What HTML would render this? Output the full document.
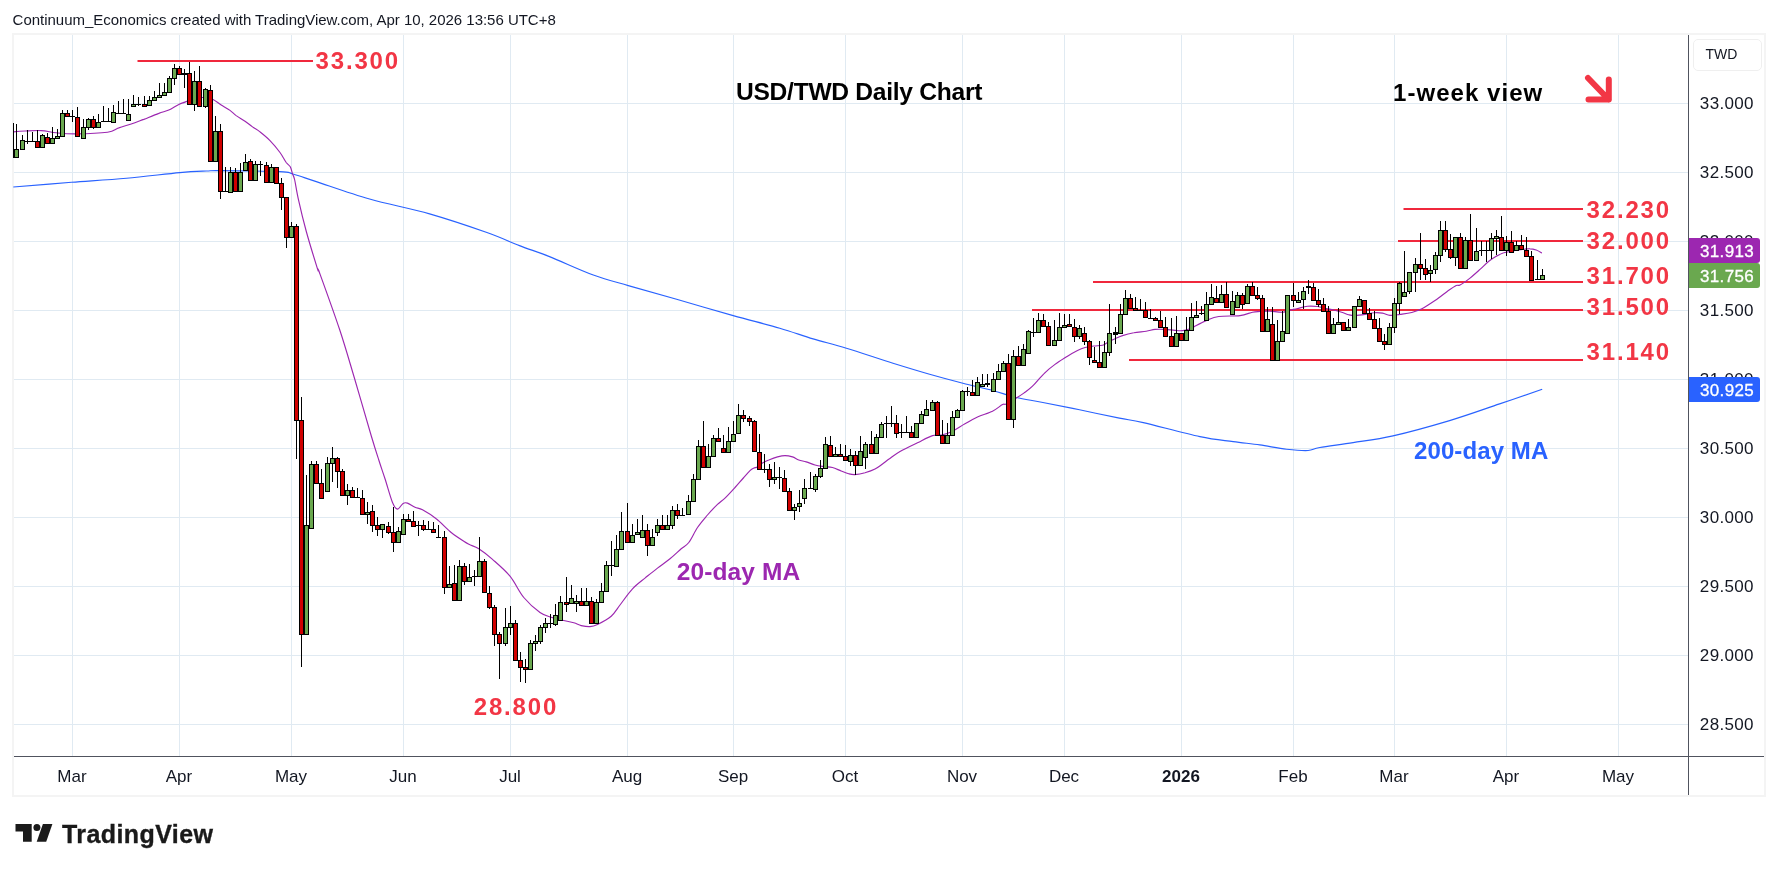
<!DOCTYPE html>
<html><head><meta charset="utf-8"><title>USD/TWD Daily Chart</title>
<style>
html,body{margin:0;padding:0;background:#fff;}
body{width:1778px;height:871px;position:relative;overflow:hidden;font-family:"Liberation Sans",sans-serif;color:#131722;}
.wrap{position:absolute;left:0;top:0;width:1778px;height:871px;will-change:transform;}
.chart{position:absolute;left:0;top:0;}
.frame{position:absolute;left:12px;top:33px;width:1750px;height:760px;border:2px solid #f4f4f4;box-sizing:content-box;}
.hdr{position:absolute;left:12.6px;letter-spacing:-0.02px;top:10px;font-size:15px;line-height:20px;white-space:nowrap;color:#131722;}
.pl{position:absolute;left:1688.9px;width:76px;text-align:center;font-size:17px;line-height:20px;height:20px;color:#131722;letter-spacing:0.35px;}
.tl{position:absolute;top:767.2px;width:80px;text-align:center;font-size:17px;line-height:20px;color:#131722;}
.tl.b{font-weight:bold;}
.badge{-webkit-text-stroke:0.3px #fff;position:absolute;left:1689px;width:71px;height:24.5px;border-radius:0 3px 3px 0;color:#fff;font-size:17px;line-height:27px;text-align:center;text-indent:5px;letter-spacing:0.3px;}
.twd{position:absolute;left:1693px;top:39px;width:67px;height:30px;border:1px solid #efefef;border-radius:5px;font-size:14px;line-height:29px;text-align:left;text-indent:11.5px;color:#131722;}
.t{position:absolute;white-space:nowrap;font-weight:bold;font-size:24px;line-height:28px;}
.red{color:#f23645;letter-spacing:1.85px;}
.logo{-webkit-text-stroke:0.35px #1a1a1a;position:absolute;left:62px;top:819px;font-weight:bold;font-size:25px;line-height:30px;letter-spacing:0.42px;color:#1a1a1a;white-space:nowrap;}
</style></head><body><div class="wrap">
<div class="frame"></div>
<div class="hdr">Continuum_Economics created with TradingView.com, Apr 10, 2026 13:56 UTC+8</div>
<svg class="chart" width="1778" height="871" viewBox="0 0 1778 871">
<defs><clipPath id="cp"><rect x="13" y="35" width="1675" height="721"/></clipPath></defs>
<path d="M14 103h1674v1h-1674zM14 172h1674v1h-1674zM14 241h1674v1h-1674zM14 310h1674v1h-1674zM14 379h1674v1h-1674zM14 448h1674v1h-1674zM14 517h1674v1h-1674zM14 586h1674v1h-1674zM14 655h1674v1h-1674zM14 724h1674v1h-1674zM72 35h1v721h-1zM179 35h1v721h-1zM291 35h1v721h-1zM403 35h1v721h-1zM510 35h1v721h-1zM627 35h1v721h-1zM733 35h1v721h-1zM845 35h1v721h-1zM962 35h1v721h-1zM1064 35h1v721h-1zM1181 35h1v721h-1zM1293 35h1v721h-1zM1394 35h1v721h-1zM1506 35h1v721h-1zM1618 35h1v721h-1z" fill="#e0eaf2" shape-rendering="crispEdges"/>
<g clip-path="url(#cp)">
<rect x="137.5" y="60" width="175.5" height="2" fill="#f0283c"/><rect x="1403.5" y="208" width="179.5" height="2" fill="#f0283c"/><rect x="1398" y="240" width="185" height="2" fill="#f0283c"/><rect x="1093" y="281" width="490" height="2" fill="#f0283c"/><rect x="1032" y="309" width="551" height="2" fill="#f0283c"/><rect x="1129" y="359" width="454" height="2" fill="#f0283c"/>
<path d="M13.3 187.0C23.0 186.2 52.7 183.8 71.6 182.3C90.5 180.9 108.5 179.9 126.5 178.3C144.5 176.7 166.5 173.8 179.8 172.6C193.1 171.4 199.8 171.3 206.5 171.0C213.2 170.7 207.6 170.5 219.8 170.6C232.0 170.7 267.5 171.0 279.7 171.6C291.9 172.2 286.9 172.3 293.0 174.0C299.1 175.7 303.5 177.4 316.3 181.6C329.1 185.8 350.7 193.6 369.6 199.0C388.5 204.4 410.2 208.3 429.6 213.9C449.0 219.5 471.2 227.0 486.2 232.3C501.2 237.6 508.9 241.5 519.5 245.6C530.0 249.7 537.2 251.7 549.5 256.6C561.8 261.5 580.2 270.2 593.3 275.0C606.4 279.8 614.4 281.6 628.3 285.6C642.2 289.7 659.1 294.3 676.6 299.3C694.1 304.3 716.0 310.8 733.2 315.6C750.4 320.4 766.5 324.3 779.8 328.2C793.1 332.1 802.0 335.6 813.1 338.9C824.2 342.2 833.1 344.1 846.4 348.2C859.7 352.2 879.1 358.9 893.0 363.2C906.9 367.5 918.0 370.9 929.6 374.2C941.2 377.5 952.4 380.5 962.9 383.2C973.4 385.9 984.0 388.1 992.9 390.5C1001.8 392.9 1007.9 395.5 1016.2 397.5C1024.5 399.5 1032.4 400.4 1042.9 402.5C1053.5 404.6 1066.8 407.2 1079.5 409.8C1092.2 412.4 1108.8 416.0 1119.4 418.1C1130.0 420.2 1129.9 419.5 1143.3 422.6C1156.7 425.7 1184.9 433.4 1199.9 436.6C1214.9 439.8 1223.2 440.2 1233.2 441.6C1243.2 443.0 1250.9 443.6 1259.8 444.9C1268.7 446.2 1278.5 448.3 1286.5 449.2C1294.5 450.1 1302.5 450.8 1308.1 450.5C1313.6 450.2 1312.3 448.8 1319.8 447.5C1327.3 446.2 1340.9 444.5 1353.1 442.6C1365.3 440.7 1376.9 439.6 1393.0 435.9C1409.1 432.2 1431.8 425.9 1449.6 420.6C1467.4 415.3 1484.2 409.1 1499.6 403.9C1515.0 398.7 1535.1 391.7 1542.2 389.3" fill="none" stroke="#2962ff" stroke-width="1.15" stroke-linejoin="round"/>
<path d="M13.5 131.9C15.4 131.7 20.4 131.2 25.0 131.0C29.6 130.8 36.0 130.3 41.2 130.6C46.5 130.9 50.6 132.2 56.2 132.8C61.9 133.3 66.5 133.8 75.0 133.8C83.5 133.7 100.2 133.2 107.5 132.2C114.8 131.3 114.8 129.2 118.8 127.9C122.7 126.5 127.1 125.4 131.2 124.0C135.4 122.6 139.2 121.1 143.8 119.4C148.3 117.6 154.6 114.9 158.8 113.4C162.9 111.8 165.4 111.5 168.8 110.0C172.1 108.5 176.0 105.7 178.8 104.4C181.5 103.1 182.7 103.0 185.0 102.1C187.3 101.3 190.0 100.1 192.5 99.4C195.0 98.7 198.4 98.2 200.0 97.9C201.6 97.6 200.7 97.5 201.9 97.5C203.1 97.5 205.1 97.5 207.0 97.8C208.9 98.1 210.7 98.2 213.1 99.4C215.5 100.6 218.4 103.2 221.2 105.0C224.1 106.8 227.5 108.6 230.0 110.4C232.5 112.2 233.8 113.8 236.2 115.6C238.8 117.4 242.3 119.4 245.0 121.2C247.7 123.1 250.0 125.1 252.5 126.9C255.0 128.7 257.1 129.6 260.0 131.9C262.9 134.2 266.7 137.2 270.0 140.6C273.3 144.0 277.3 148.8 280.0 152.5C282.7 156.2 284.5 160.1 286.2 162.5C288.0 164.9 289.4 165.0 290.4 166.9C291.4 168.8 291.8 171.6 292.5 173.8C293.2 175.9 293.7 175.4 294.7 180.0C295.7 184.6 296.8 192.7 298.8 201.2C300.7 209.8 303.2 220.2 306.3 231.5C309.4 242.8 315.3 261.8 317.5 268.8C319.7 275.7 316.0 263.0 319.7 273.2C323.4 283.4 333.9 312.3 339.7 329.8C345.5 347.3 349.1 360.3 354.4 378.0C359.7 395.7 367.2 422.3 371.3 436.0C375.4 449.7 376.5 452.9 378.8 460.0C381.0 467.1 382.7 471.7 385.0 478.8C387.3 485.8 390.4 497.4 392.5 502.5C394.6 507.6 395.7 509.0 397.5 509.1C399.3 509.2 401.4 504.4 403.1 503.4C404.8 502.4 405.5 502.5 407.5 503.1C409.5 503.7 412.5 506.1 415.0 507.2C417.5 508.4 419.0 507.8 422.5 509.8C426.0 511.7 431.5 515.0 436.2 518.8C441.0 522.5 446.7 528.8 451.2 532.5C455.8 536.2 460.6 539.2 463.8 541.2C466.9 543.3 467.5 543.5 470.0 544.8C472.5 546.0 475.0 546.3 478.8 548.8C482.5 551.2 487.3 554.8 492.5 559.4C497.7 564.0 504.8 569.9 510.0 576.2C515.2 582.6 518.8 591.5 523.8 597.5C528.8 603.5 535.4 609.2 540.0 612.5C544.6 615.8 547.5 616.0 551.2 617.2C555.0 618.5 558.8 619.3 562.5 620.2C566.2 621.2 570.6 621.9 573.8 622.8C576.9 623.6 578.5 625.0 581.2 625.6C584.0 626.2 587.3 626.8 590.0 626.6C592.7 626.4 594.0 626.1 597.5 624.4C601.0 622.7 607.5 619.5 611.2 616.2C615.0 613.0 616.5 609.6 620.0 605.0C623.5 600.4 628.3 593.2 632.5 588.8C636.7 584.3 640.8 581.5 645.0 578.1C649.2 574.7 653.3 571.3 657.5 568.1C661.7 564.9 666.0 562.0 670.0 558.8C674.0 555.5 678.1 551.5 681.2 548.8C684.4 546.0 686.0 546.0 688.8 542.5C691.5 539.0 694.4 532.1 697.5 527.5C700.6 522.9 704.2 518.9 707.5 515.0C710.8 511.1 714.6 507.2 717.5 504.4C720.4 501.6 722.1 500.9 725.0 498.1C727.9 495.3 731.9 490.9 735.0 487.5C738.1 484.1 741.2 480.3 743.8 477.5C746.2 474.7 748.3 472.2 750.0 470.6C751.7 469.0 752.5 468.7 753.8 468.1C755.0 467.5 756.0 467.7 757.5 466.9C759.0 466.1 760.6 464.2 762.5 463.1C764.4 462.0 766.2 461.0 768.8 460.0C771.2 459.0 774.8 457.6 777.5 456.9C780.2 456.2 782.5 455.6 785.0 455.6C787.5 455.6 790.2 456.2 792.5 456.9C794.8 457.6 796.5 459.2 798.8 460.0C801.0 460.8 803.5 461.1 806.2 461.9C809.0 462.7 812.1 464.2 815.0 465.0C817.9 465.8 820.8 466.1 823.8 466.5C826.7 466.9 829.6 466.8 832.5 467.5C835.4 468.2 838.5 470.0 841.2 471.0C844.0 472.0 846.5 473.1 848.8 473.8C851.0 474.4 852.3 474.8 855.0 474.6C857.7 474.4 861.7 473.7 865.0 472.8C868.3 471.8 872.1 470.5 875.0 469.0C877.9 467.5 880.1 465.7 882.5 464.0C884.9 462.3 886.5 460.8 889.4 458.8C892.3 456.7 895.3 454.2 900.0 451.5C904.7 448.8 912.1 445.4 917.5 442.8C922.9 440.1 928.3 436.9 932.5 435.6C936.7 434.3 939.2 435.5 942.5 434.8C945.8 434.0 948.8 433.1 952.5 431.2C956.2 429.4 960.8 426.1 965.0 423.8C969.2 421.4 972.9 419.0 977.5 416.9C982.1 414.8 988.3 413.3 992.5 411.2C996.7 409.2 1000.2 405.8 1002.5 404.6C1004.8 403.4 1004.0 405.1 1006.2 404.0C1008.5 402.9 1013.3 399.9 1016.2 398.1C1019.2 396.3 1021.0 395.1 1023.8 393.1C1026.5 391.1 1029.2 389.5 1032.5 386.2C1035.8 383.0 1040.0 377.4 1043.8 373.8C1047.5 370.1 1051.0 367.3 1055.0 364.4C1059.0 361.5 1063.8 358.6 1067.5 356.2C1071.2 353.9 1074.6 352.1 1077.5 350.6C1080.4 349.1 1082.3 348.3 1085.0 347.5C1087.7 346.7 1090.8 346.4 1093.8 346.0C1096.7 345.6 1100.2 345.8 1102.5 345.2C1104.8 344.7 1105.4 343.6 1107.5 342.5C1109.6 341.4 1112.5 339.9 1115.0 338.8C1117.5 337.6 1119.4 336.6 1122.5 335.6C1125.6 334.6 1129.8 333.5 1133.8 332.8C1137.7 332.0 1142.7 331.8 1146.2 331.2C1149.8 330.7 1151.9 329.7 1155.0 329.4C1158.1 329.1 1161.7 329.2 1165.0 329.4C1168.3 329.6 1172.1 330.2 1175.0 330.4C1177.9 330.6 1180.0 330.9 1182.5 330.6C1185.0 330.3 1188.1 329.4 1190.0 328.8C1191.9 328.1 1191.0 328.3 1193.8 326.9C1196.5 325.5 1202.1 322.3 1206.2 320.6C1210.4 318.9 1213.1 317.3 1218.8 316.5C1224.4 315.7 1234.4 316.3 1240.0 315.6C1245.6 314.9 1249.2 312.9 1252.5 312.2C1255.8 311.6 1257.1 311.7 1260.0 311.5C1262.9 311.3 1266.2 311.1 1270.0 311.2C1273.8 311.4 1279.2 312.4 1282.5 312.2C1285.8 312.1 1287.5 310.9 1290.0 310.2C1292.5 309.6 1294.6 309.2 1297.5 308.5C1300.4 307.8 1304.2 306.6 1307.5 306.2C1310.8 305.9 1314.4 306.1 1317.5 306.5C1320.6 306.9 1323.5 307.9 1326.2 308.5C1329.0 309.1 1331.0 309.3 1333.8 310.0C1336.5 310.7 1340.0 311.7 1342.5 312.5C1345.0 313.3 1346.7 314.2 1348.8 314.8C1350.8 315.3 1352.3 315.7 1355.0 315.6C1357.7 315.5 1361.9 314.9 1365.0 314.4C1368.1 313.9 1370.8 313.0 1373.8 312.8C1376.7 312.5 1379.8 312.7 1382.5 313.1C1385.2 313.5 1387.1 315.2 1390.0 315.4C1392.9 315.6 1396.4 314.9 1400.0 314.4C1403.6 313.9 1408.1 313.4 1411.8 312.5C1415.4 311.6 1418.0 310.7 1421.9 308.8C1425.8 306.8 1430.7 303.5 1435.0 300.6C1439.3 297.7 1444.0 293.8 1447.5 291.2C1451.0 288.8 1454.2 286.6 1456.2 285.6C1458.3 284.6 1457.7 286.2 1460.0 285.0C1462.3 283.8 1466.7 280.7 1470.0 278.1C1473.3 275.5 1476.9 272.2 1480.0 269.4C1483.1 266.6 1486.2 263.3 1488.8 261.2C1491.2 259.2 1492.5 258.3 1495.0 256.9C1497.5 255.5 1500.8 253.7 1503.8 252.8C1506.7 251.8 1509.4 251.6 1512.5 251.0C1515.6 250.4 1519.6 249.8 1522.5 249.4C1525.4 249.0 1527.7 248.7 1530.0 248.8C1532.3 248.8 1534.3 249.3 1536.2 250.0C1538.2 250.7 1541.0 252.6 1541.9 253.1" fill="none" stroke="#9c27b0" stroke-width="1.15" stroke-linejoin="round"/>
<g shape-rendering="crispEdges">
<path d="M11 123h1v35h-1zM16 124h1v34h-1zM22 135h1v15h-1zM27 130h1v14h-1zM32 132h1v10h-1zM37 130h1v18h-1zM42 134h1v14h-1zM47 133h1v11h-1zM52 127h1v17h-1zM57 129h1v10h-1zM62 110h1v27h-1zM67 110h1v7h-1zM72 110h1v12h-1zM77 107h1v30h-1zM83 119h1v20h-1zM88 118h1v12h-1zM93 116h1v13h-1zM98 114h1v14h-1zM103 106h1v16h-1zM108 108h1v14h-1zM113 105h1v18h-1zM118 101h1v13h-1zM123 99h1v15h-1zM128 99h1v22h-1zM133 95h1v12h-1zM138 97h1v9h-1zM144 96h1v11h-1zM149 96h1v10h-1zM154 91h1v10h-1zM159 83h1v15h-1zM164 83h1v13h-1zM169 76h1v17h-1zM174 64h1v21h-1zM179 66h1v9h-1zM184 69h1v19h-1zM189 62h1v43h-1zM194 71h1v40h-1zM199 66h1v41h-1zM205 88h1v20h-1zM210 85h1v77h-1zM215 116h1v46h-1zM220 124h1v75h-1zM225 167h1v25h-1zM230 167h1v26h-1zM235 168h1v24h-1zM240 163h1v29h-1zM245 154h1v17h-1zM250 159h1v22h-1zM255 161h1v20h-1zM260 161h1v15h-1zM266 162h1v21h-1zM271 164h1v19h-1zM276 167h1v17h-1zM281 178h1v32h-1zM286 197h1v51h-1zM291 222h1v16h-1zM296 224h1v235h-1zM301 397h1v270h-1zM306 475h1v160h-1zM311 461h1v68h-1zM316 461h1v23h-1zM321 469h1v30h-1zM327 457h1v35h-1zM332 447h1v35h-1zM337 457h1v31h-1zM342 469h1v27h-1zM347 484h1v21h-1zM352 487h1v11h-1zM357 488h1v10h-1zM362 490h1v25h-1zM367 502h1v22h-1zM372 505h1v27h-1zM377 517h1v19h-1zM382 524h1v14h-1zM388 522h1v12h-1zM393 507h1v45h-1zM398 527h1v16h-1zM403 514h1v21h-1zM408 514h1v8h-1zM413 511h1v16h-1zM418 521h1v15h-1zM423 520h1v11h-1zM428 521h1v9h-1zM433 522h1v11h-1zM438 525h1v13h-1zM444 531h1v63h-1zM449 566h1v22h-1zM454 565h1v36h-1zM459 560h1v41h-1zM464 563h1v22h-1zM469 564h1v18h-1zM474 570h1v16h-1zM479 537h1v40h-1zM484 559h1v34h-1zM489 586h1v23h-1zM494 605h1v41h-1zM499 632h1v47h-1zM505 608h1v38h-1zM510 606h1v29h-1zM515 620h1v41h-1zM520 652h1v30h-1zM525 659h1v24h-1zM530 640h1v30h-1zM535 635h1v16h-1zM540 625h1v19h-1zM545 618h1v15h-1zM550 614h1v14h-1zM555 604h1v22h-1zM560 596h1v25h-1zM566 577h1v35h-1zM571 585h1v19h-1zM576 595h1v17h-1zM581 588h1v18h-1zM586 588h1v18h-1zM591 597h1v27h-1zM596 599h1v25h-1zM601 583h1v20h-1zM606 561h1v31h-1zM611 541h1v35h-1zM616 535h1v32h-1zM621 512h1v38h-1zM627 503h1v40h-1zM632 524h1v19h-1zM637 519h1v16h-1zM642 515h1v23h-1zM647 524h1v32h-1zM652 529h1v17h-1zM657 519h1v17h-1zM662 515h1v15h-1zM667 515h1v15h-1zM672 506h1v23h-1zM677 504h1v15h-1zM682 508h1v8h-1zM688 495h1v20h-1zM693 474h1v28h-1zM698 440h1v40h-1zM703 421h1v47h-1zM708 444h1v24h-1zM713 435h1v22h-1zM718 428h1v14h-1zM723 435h1v18h-1zM728 427h1v26h-1zM733 421h1v21h-1zM738 404h1v30h-1zM743 410h1v12h-1zM749 416h1v10h-1zM754 420h1v32h-1zM759 434h1v36h-1zM764 454h1v19h-1zM769 464h1v23h-1zM774 462h1v22h-1zM779 467h1v22h-1zM784 470h1v22h-1zM789 488h1v23h-1zM794 504h1v16h-1zM799 490h1v22h-1zM804 479h1v25h-1zM810 472h1v17h-1zM815 474h1v18h-1zM820 460h1v18h-1zM825 437h1v32h-1zM830 436h1v21h-1zM835 447h1v10h-1zM840 444h1v13h-1zM845 445h1v16h-1zM850 449h1v17h-1zM855 451h1v24h-1zM860 436h1v30h-1zM865 442h1v27h-1zM871 431h1v23h-1zM876 434h1v20h-1zM881 422h1v16h-1zM886 416h1v22h-1zM891 406h1v21h-1zM896 415h1v23h-1zM901 424h1v14h-1zM906 416h1v17h-1zM911 426h1v12h-1zM916 423h1v15h-1zM921 411h1v13h-1zM926 400h1v16h-1zM932 400h1v11h-1zM937 401h1v35h-1zM942 420h1v24h-1zM947 423h1v21h-1zM952 411h1v25h-1zM957 409h1v9h-1zM962 390h1v21h-1zM967 387h1v9h-1zM972 380h1v16h-1zM977 377h1v19h-1zM982 374h1v13h-1zM987 374h1v13h-1zM993 373h1v19h-1zM998 364h1v16h-1zM1003 361h1v11h-1zM1008 354h1v66h-1zM1013 350h1v78h-1zM1018 346h1v20h-1zM1023 344h1v22h-1zM1028 330h1v24h-1zM1033 318h1v19h-1zM1038 313h1v20h-1zM1043 314h1v13h-1zM1048 322h1v24h-1zM1054 320h1v26h-1zM1059 313h1v28h-1zM1064 314h1v14h-1zM1069 314h1v13h-1zM1074 319h1v23h-1zM1079 325h1v14h-1zM1084 327h1v18h-1zM1089 340h1v25h-1zM1094 347h1v16h-1zM1099 341h1v27h-1zM1104 341h1v27h-1zM1109 304h1v52h-1zM1115 327h1v17h-1zM1120 304h1v30h-1zM1125 290h1v25h-1zM1130 294h1v15h-1zM1135 297h1v14h-1zM1140 299h1v12h-1zM1145 302h1v16h-1zM1150 309h1v10h-1zM1155 317h1v4h-1zM1160 311h1v17h-1zM1165 317h1v20h-1zM1171 318h1v29h-1zM1176 316h1v31h-1zM1181 333h1v8h-1zM1186 317h1v24h-1zM1191 303h1v28h-1zM1196 301h1v17h-1zM1201 306h1v9h-1zM1206 292h1v29h-1zM1211 284h1v21h-1zM1216 286h1v17h-1zM1221 285h1v18h-1zM1226 282h1v26h-1zM1232 291h1v24h-1zM1237 292h1v16h-1zM1242 293h1v16h-1zM1247 284h1v20h-1zM1252 282h1v14h-1zM1257 287h1v13h-1zM1262 295h1v37h-1zM1267 307h1v25h-1zM1272 307h1v54h-1zM1277 320h1v41h-1zM1282 311h1v31h-1zM1287 295h1v39h-1zM1293 283h1v24h-1zM1298 292h1v11h-1zM1303 287h1v22h-1zM1308 280h1v14h-1zM1313 283h1v18h-1zM1318 289h1v18h-1zM1323 298h1v14h-1zM1328 306h1v28h-1zM1333 318h1v16h-1zM1338 308h1v17h-1zM1343 322h1v9h-1zM1348 319h1v12h-1zM1354 306h1v22h-1zM1359 296h1v11h-1zM1364 300h1v14h-1zM1369 308h1v12h-1zM1374 311h1v18h-1zM1379 318h1v24h-1zM1384 334h1v16h-1zM1389 323h1v22h-1zM1394 298h1v35h-1zM1399 282h1v32h-1zM1404 251h1v46h-1zM1409 272h1v22h-1zM1415 258h1v34h-1zM1420 233h1v47h-1zM1425 259h1v21h-1zM1430 265h1v17h-1zM1435 252h1v22h-1zM1440 221h1v41h-1zM1445 221h1v31h-1zM1450 234h1v25h-1zM1455 237h1v29h-1zM1460 233h1v36h-1zM1465 237h1v32h-1zM1470 214h1v47h-1zM1476 228h1v33h-1zM1481 241h1v15h-1zM1486 241h1v21h-1zM1491 233h1v26h-1zM1496 230h1v25h-1zM1501 216h1v35h-1zM1506 236h1v20h-1zM1511 231h1v22h-1zM1516 241h1v10h-1zM1521 235h1v15h-1zM1526 237h1v20h-1zM1531 251h1v30h-1zM1537 260h1v20h-1zM1542 269h1v11h-1z" fill="#000"/>
<path d="M9 123h5v35h-5zM14 149h5v9h-5zM20 140h5v10h-5zM25 141h5v1h-5zM30 141h5v1h-5zM35 141h5v7h-5zM40 135h5v13h-5zM45 137h5v7h-5zM50 138h5v6h-5zM55 136h5v3h-5zM60 113h5v24h-5zM65 113h5v4h-5zM70 116h5v1h-5zM75 117h5v20h-5zM81 127h5v12h-5zM86 119h5v9h-5zM91 119h5v9h-5zM96 122h5v6h-5zM101 121h5v1h-5zM106 121h5v1h-5zM111 112h5v11h-5zM116 113h5v1h-5zM121 113h5v1h-5zM126 114h5v7h-5zM131 104h5v3h-5zM136 104h5v1h-5zM142 104h5v3h-5zM147 100h5v6h-5zM152 97h5v4h-5zM157 95h5v3h-5zM162 92h5v4h-5zM167 78h5v15h-5zM172 68h5v11h-5zM177 68h5v7h-5zM182 73h5v2h-5zM187 73h5v32h-5zM192 81h5v24h-5zM197 81h5v26h-5zM203 89h5v18h-5zM208 90h5v72h-5zM213 131h5v31h-5zM218 131h5v61h-5zM223 191h5v1h-5zM228 172h5v21h-5zM233 172h5v20h-5zM238 172h5v20h-5zM243 162h5v9h-5zM248 161h5v20h-5zM253 164h5v17h-5zM258 164h5v1h-5zM264 165h5v18h-5zM269 167h5v16h-5zM274 167h5v17h-5zM279 183h5v15h-5zM284 197h5v41h-5zM289 226h5v12h-5zM294 226h5v195h-5zM299 420h5v215h-5zM304 525h5v110h-5zM309 464h5v65h-5zM314 464h5v20h-5zM319 483h5v16h-5zM325 463h5v29h-5zM330 458h5v6h-5zM335 458h5v14h-5zM340 471h5v25h-5zM345 490h5v6h-5zM350 490h5v8h-5zM355 497h5v1h-5zM360 498h5v17h-5zM365 512h5v3h-5zM370 511h5v15h-5zM375 525h5v5h-5zM380 524h5v6h-5zM386 526h5v7h-5zM391 532h5v11h-5zM396 531h5v12h-5zM401 519h5v16h-5zM406 519h5v3h-5zM411 521h5v6h-5zM416 525h5v1h-5zM421 525h5v5h-5zM426 529h5v1h-5zM431 529h5v4h-5zM436 537h5v1h-5zM442 537h5v51h-5zM447 584h5v4h-5zM452 583h5v18h-5zM457 566h5v35h-5zM462 566h5v16h-5zM467 577h5v5h-5zM472 576h5v1h-5zM477 561h5v16h-5zM482 561h5v32h-5zM487 593h5v15h-5zM492 607h5v28h-5zM497 634h5v10h-5zM503 627h5v17h-5zM508 623h5v5h-5zM513 623h5v38h-5zM518 660h5v8h-5zM523 667h5v3h-5zM528 643h5v27h-5zM533 641h5v3h-5zM538 627h5v15h-5zM543 623h5v5h-5zM548 623h5v1h-5zM553 615h5v10h-5zM558 602h5v19h-5zM564 602h5v3h-5zM569 598h5v6h-5zM574 601h5v3h-5zM579 601h5v5h-5zM584 601h5v5h-5zM589 601h5v23h-5zM594 602h5v22h-5zM599 591h5v12h-5zM604 565h5v27h-5zM609 565h5v1h-5zM614 549h5v18h-5zM619 531h5v19h-5zM625 531h5v12h-5zM630 535h5v8h-5zM635 532h5v3h-5zM640 530h5v8h-5zM645 530h5v16h-5zM650 537h5v9h-5zM655 525h5v8h-5zM660 525h5v5h-5zM665 525h5v5h-5zM670 510h5v16h-5zM675 510h5v6h-5zM680 515h5v1h-5zM686 501h5v14h-5zM691 479h5v23h-5zM696 446h5v34h-5zM701 446h5v22h-5zM706 456h5v12h-5zM711 438h5v19h-5zM716 438h5v4h-5zM721 448h5v5h-5zM726 441h5v12h-5zM731 434h5v8h-5zM736 415h5v19h-5zM741 415h5v4h-5zM747 418h5v4h-5zM752 421h5v31h-5zM757 452h5v18h-5zM762 469h5v1h-5zM767 469h5v11h-5zM772 477h5v3h-5zM777 477h5v1h-5zM782 478h5v14h-5zM787 491h5v20h-5zM792 507h5v4h-5zM797 503h5v4h-5zM802 488h5v11h-5zM808 488h5v1h-5zM813 476h5v14h-5zM818 468h5v9h-5zM823 444h5v25h-5zM828 445h5v12h-5zM833 454h5v3h-5zM838 454h5v3h-5zM843 456h5v5h-5zM848 455h5v7h-5zM853 455h5v11h-5zM858 451h5v15h-5zM863 444h5v14h-5zM869 444h5v10h-5zM874 437h5v17h-5zM879 424h5v14h-5zM884 423h5v1h-5zM889 423h5v1h-5zM894 423h5v11h-5zM899 432h5v1h-5zM904 432h5v1h-5zM909 432h5v6h-5zM914 423h5v15h-5zM919 414h5v10h-5zM924 409h5v7h-5zM930 402h5v9h-5zM935 402h5v34h-5zM940 435h5v9h-5zM945 435h5v9h-5zM950 417h5v19h-5zM955 410h5v8h-5zM960 391h5v20h-5zM965 391h5v1h-5zM970 392h5v4h-5zM975 382h5v14h-5zM980 384h5v3h-5zM985 383h5v2h-5zM991 379h5v13h-5zM996 371h5v9h-5zM1001 363h5v9h-5zM1006 363h5v57h-5zM1011 356h5v64h-5zM1016 356h5v10h-5zM1021 349h5v17h-5zM1026 331h5v23h-5zM1031 332h5v1h-5zM1036 320h5v13h-5zM1041 320h5v7h-5zM1046 326h5v20h-5zM1052 340h5v6h-5zM1057 327h5v14h-5zM1062 325h5v3h-5zM1067 324h5v3h-5zM1072 327h5v10h-5zM1077 328h5v9h-5zM1082 333h5v9h-5zM1087 341h5v17h-5zM1092 360h5v3h-5zM1097 362h5v6h-5zM1102 352h5v16h-5zM1107 333h5v20h-5zM1113 332h5v3h-5zM1118 314h5v20h-5zM1123 298h5v17h-5zM1128 298h5v11h-5zM1133 308h5v3h-5zM1138 310h5v1h-5zM1143 310h5v8h-5zM1148 318h5v1h-5zM1153 318h5v3h-5zM1158 320h5v8h-5zM1163 327h5v10h-5zM1169 336h5v11h-5zM1174 333h5v14h-5zM1179 333h5v8h-5zM1184 330h5v11h-5zM1189 317h5v14h-5zM1194 315h5v3h-5zM1199 313h5v1h-5zM1204 304h5v17h-5zM1209 297h5v8h-5zM1214 298h5v5h-5zM1219 294h5v9h-5zM1224 294h5v14h-5zM1230 301h5v14h-5zM1235 295h5v13h-5zM1240 295h5v10h-5zM1245 286h5v18h-5zM1250 286h5v10h-5zM1255 295h5v4h-5zM1260 298h5v34h-5zM1265 319h5v13h-5zM1270 324h5v37h-5zM1275 341h5v20h-5zM1280 331h5v11h-5zM1285 295h5v39h-5zM1291 295h5v6h-5zM1296 300h5v3h-5zM1301 291h5v9h-5zM1306 286h5v2h-5zM1311 287h5v14h-5zM1316 300h5v5h-5zM1321 304h5v8h-5zM1326 311h5v23h-5zM1331 324h5v10h-5zM1336 322h5v3h-5zM1341 322h5v9h-5zM1346 327h5v4h-5zM1352 306h5v22h-5zM1357 299h5v8h-5zM1362 300h5v14h-5zM1367 313h5v7h-5zM1372 319h5v10h-5zM1377 328h5v14h-5zM1382 341h5v4h-5zM1387 327h5v18h-5zM1392 303h5v25h-5zM1397 283h5v21h-5zM1402 292h5v5h-5zM1407 272h5v20h-5zM1413 264h5v9h-5zM1418 264h5v5h-5zM1423 268h5v7h-5zM1428 270h5v4h-5zM1433 255h5v15h-5zM1438 230h5v26h-5zM1443 230h5v20h-5zM1448 249h5v9h-5zM1453 237h5v21h-5zM1458 237h5v32h-5zM1463 240h5v29h-5zM1468 240h5v21h-5zM1474 251h5v10h-5zM1479 250h5v1h-5zM1484 250h5v1h-5zM1489 238h5v13h-5zM1494 236h5v3h-5zM1499 237h5v14h-5zM1504 242h5v9h-5zM1509 242h5v11h-5zM1514 245h5v6h-5zM1519 245h5v5h-5zM1524 250h5v7h-5zM1529 256h5v25h-5zM1535 279h5v1h-5zM1540 275h5v5h-5z" fill="#000"/>
<path d="M10 124h3v33h-3zM15 150h3v7h-3zM21 141h3v8h-3zM41 136h3v11h-3zM51 139h3v4h-3zM56 137h3v1h-3zM61 114h3v22h-3zM82 128h3v10h-3zM87 120h3v7h-3zM97 123h3v4h-3zM112 113h3v9h-3zM127 115h3v5h-3zM132 105h3v1h-3zM148 101h3v4h-3zM153 98h3v2h-3zM158 96h3v1h-3zM163 93h3v2h-3zM168 79h3v13h-3zM173 69h3v9h-3zM193 82h3v22h-3zM204 90h3v16h-3zM214 132h3v29h-3zM229 173h3v19h-3zM239 173h3v18h-3zM244 163h3v7h-3zM254 165h3v15h-3zM270 168h3v14h-3zM290 227h3v10h-3zM305 526h3v108h-3zM310 465h3v63h-3zM326 464h3v27h-3zM331 459h3v4h-3zM346 491h3v4h-3zM366 513h3v1h-3zM381 525h3v4h-3zM397 532h3v10h-3zM402 520h3v14h-3zM448 585h3v2h-3zM458 567h3v33h-3zM468 578h3v3h-3zM478 562h3v14h-3zM504 628h3v15h-3zM509 624h3v3h-3zM529 644h3v25h-3zM534 642h3v1h-3zM539 628h3v13h-3zM544 624h3v3h-3zM554 616h3v8h-3zM559 603h3v17h-3zM570 599h3v4h-3zM575 602h3v1h-3zM585 602h3v3h-3zM595 603h3v20h-3zM600 592h3v10h-3zM605 566h3v25h-3zM615 550h3v16h-3zM620 532h3v17h-3zM631 536h3v6h-3zM636 533h3v1h-3zM641 531h3v6h-3zM651 538h3v7h-3zM656 526h3v6h-3zM666 526h3v3h-3zM671 511h3v14h-3zM687 502h3v12h-3zM692 480h3v21h-3zM697 447h3v32h-3zM707 457h3v10h-3zM712 439h3v17h-3zM727 442h3v10h-3zM732 435h3v6h-3zM737 416h3v17h-3zM773 478h3v1h-3zM793 508h3v2h-3zM798 504h3v2h-3zM803 489h3v9h-3zM814 477h3v12h-3zM819 469h3v7h-3zM824 445h3v23h-3zM834 455h3v1h-3zM849 456h3v5h-3zM859 452h3v13h-3zM864 445h3v12h-3zM875 438h3v15h-3zM880 425h3v12h-3zM915 424h3v13h-3zM920 415h3v8h-3zM925 410h3v5h-3zM931 403h3v7h-3zM946 436h3v7h-3zM951 418h3v17h-3zM956 411h3v6h-3zM961 392h3v18h-3zM976 383h3v12h-3zM981 385h3v1h-3zM992 380h3v11h-3zM997 372h3v7h-3zM1002 364h3v7h-3zM1012 357h3v62h-3zM1022 350h3v15h-3zM1027 332h3v21h-3zM1037 321h3v11h-3zM1053 341h3v4h-3zM1058 328h3v12h-3zM1063 326h3v1h-3zM1078 329h3v7h-3zM1103 353h3v14h-3zM1108 334h3v18h-3zM1119 315h3v18h-3zM1124 299h3v15h-3zM1175 334h3v12h-3zM1185 331h3v9h-3zM1190 318h3v12h-3zM1195 316h3v1h-3zM1205 305h3v15h-3zM1210 298h3v6h-3zM1220 295h3v7h-3zM1231 302h3v12h-3zM1236 296h3v11h-3zM1246 287h3v16h-3zM1266 320h3v11h-3zM1276 342h3v18h-3zM1281 332h3v9h-3zM1286 296h3v37h-3zM1297 301h3v1h-3zM1302 292h3v7h-3zM1332 325h3v8h-3zM1337 323h3v1h-3zM1347 328h3v2h-3zM1353 307h3v20h-3zM1358 300h3v6h-3zM1388 328h3v16h-3zM1393 304h3v23h-3zM1398 284h3v19h-3zM1403 293h3v3h-3zM1408 273h3v18h-3zM1414 265h3v7h-3zM1429 271h3v2h-3zM1434 256h3v13h-3zM1439 231h3v24h-3zM1454 238h3v19h-3zM1464 241h3v27h-3zM1475 252h3v8h-3zM1490 239h3v11h-3zM1495 237h3v1h-3zM1505 243h3v7h-3zM1515 246h3v4h-3zM1541 276h3v3h-3z" fill="#6aa84f"/>
<path d="M36 142h3v5h-3zM46 138h3v5h-3zM66 114h3v2h-3zM76 118h3v18h-3zM92 120h3v7h-3zM143 105h3v1h-3zM178 69h3v5h-3zM188 74h3v30h-3zM198 82h3v24h-3zM209 91h3v70h-3zM219 132h3v59h-3zM234 173h3v18h-3zM249 162h3v18h-3zM265 166h3v16h-3zM275 168h3v15h-3zM280 184h3v13h-3zM285 198h3v39h-3zM295 227h3v193h-3zM300 421h3v213h-3zM315 465h3v18h-3zM320 484h3v14h-3zM336 459h3v12h-3zM341 472h3v23h-3zM351 491h3v6h-3zM361 499h3v15h-3zM371 512h3v13h-3zM376 526h3v3h-3zM387 527h3v5h-3zM392 533h3v9h-3zM407 520h3v1h-3zM412 522h3v4h-3zM422 526h3v3h-3zM432 530h3v2h-3zM443 538h3v49h-3zM453 584h3v16h-3zM463 567h3v14h-3zM483 562h3v30h-3zM488 594h3v13h-3zM493 608h3v26h-3zM498 635h3v8h-3zM514 624h3v36h-3zM519 661h3v6h-3zM524 668h3v1h-3zM565 603h3v1h-3zM580 602h3v3h-3zM590 602h3v21h-3zM626 532h3v10h-3zM646 531h3v14h-3zM661 526h3v3h-3zM676 511h3v4h-3zM702 447h3v20h-3zM717 439h3v2h-3zM722 449h3v3h-3zM742 416h3v2h-3zM748 419h3v2h-3zM753 422h3v29h-3zM758 453h3v16h-3zM768 470h3v9h-3zM783 479h3v12h-3zM788 492h3v18h-3zM829 446h3v10h-3zM839 455h3v1h-3zM844 457h3v3h-3zM854 456h3v9h-3zM870 445h3v8h-3zM895 424h3v9h-3zM910 433h3v4h-3zM936 403h3v32h-3zM941 436h3v7h-3zM971 393h3v2h-3zM1007 364h3v55h-3zM1017 357h3v8h-3zM1042 321h3v5h-3zM1047 327h3v18h-3zM1068 325h3v1h-3zM1073 328h3v8h-3zM1083 334h3v7h-3zM1088 342h3v15h-3zM1093 361h3v1h-3zM1098 363h3v4h-3zM1129 299h3v9h-3zM1134 309h3v1h-3zM1144 311h3v6h-3zM1154 319h3v1h-3zM1159 321h3v6h-3zM1164 328h3v8h-3zM1170 337h3v9h-3zM1180 334h3v6h-3zM1215 299h3v3h-3zM1225 295h3v12h-3zM1241 296h3v8h-3zM1251 287h3v8h-3zM1256 296h3v2h-3zM1261 299h3v32h-3zM1271 325h3v35h-3zM1292 296h3v4h-3zM1312 288h3v12h-3zM1317 301h3v3h-3zM1322 305h3v6h-3zM1327 312h3v21h-3zM1342 323h3v7h-3zM1363 301h3v12h-3zM1368 314h3v5h-3zM1373 320h3v8h-3zM1378 329h3v12h-3zM1383 342h3v2h-3zM1419 265h3v3h-3zM1424 269h3v5h-3zM1444 231h3v18h-3zM1449 250h3v7h-3zM1459 238h3v30h-3zM1469 241h3v19h-3zM1500 238h3v12h-3zM1510 243h3v9h-3zM1520 246h3v3h-3zM1525 251h3v5h-3zM1530 257h3v23h-3z" fill="#d00000"/>
</g>
<path d="M1588 78L1608.7 99.5M1608.8 79.5V99.5H1588.5" fill="none" stroke="#f23645" stroke-width="6" stroke-linecap="round" stroke-linejoin="round"/>
</g>
<path d="M14 756h1750v1h-1750zM1688 35h1v760h-1z" fill="#50535e" shape-rendering="crispEdges"/>
<g fill="#1a1a1a"><path d="M15.5 824h16.2v17.7h-8.7v-10.3h-7.5z"/><circle cx="36.9" cy="827.4" r="3.5"/><path d="M42.9 824h9.5l-6.2 17.7h-9.5z"/></g>
</svg>
<div class="twd">TWD</div>
<div class="pl" style="top:93.5px">33.000</div><div class="pl" style="top:162.5px">32.500</div><div class="pl" style="top:231.5px">32.000</div><div class="pl" style="top:300.5px">31.500</div><div class="pl" style="top:369.5px">31.000</div><div class="pl" style="top:438.5px">30.500</div><div class="pl" style="top:507.5px">30.000</div><div class="pl" style="top:576.5px">29.500</div><div class="pl" style="top:645.5px">29.000</div><div class="pl" style="top:714.5px">28.500</div>
<div class="badge" style="top:238.2px;background:#9c27b0">31.913</div>
<div class="badge" style="top:263.3px;background:#6aa84f">31.756</div>
<div class="badge" style="top:377px;background:#2962ff">30.925</div>
<div class="tl" style="left:32px">Mar</div><div class="tl" style="left:139px">Apr</div><div class="tl" style="left:251px">May</div><div class="tl" style="left:363px">Jun</div><div class="tl" style="left:470px">Jul</div><div class="tl" style="left:587px">Aug</div><div class="tl" style="left:693px">Sep</div><div class="tl" style="left:805px">Oct</div><div class="tl" style="left:922px">Nov</div><div class="tl" style="left:1024px">Dec</div><div class="tl b" style="left:1141px">2026</div><div class="tl" style="left:1253px">Feb</div><div class="tl" style="left:1354px">Mar</div><div class="tl" style="left:1466px">Apr</div><div class="tl" style="left:1578px">May</div>
<div class="t" id="title" style="left:736px;top:77.5px;color:#000;font-size:24.6px;letter-spacing:-0.28px">USD/TWD Daily Chart</div>
<div class="t" id="wk" style="left:1393px;top:79px;color:#000;letter-spacing:1.05px">1-week view</div>
<div class="t red" id="r1" style="left:315.5px;top:47.3px">33.300</div>
<div class="t red" id="r2" style="left:1586.5px;top:196.3px">32.230</div>
<div class="t red" id="r3" style="left:1586.5px;top:226.5px">32.000</div>
<div class="t red" id="r4" style="left:1586.5px;top:261.7px">31.700</div>
<div class="t red" id="r5" style="left:1586.5px;top:292.7px">31.500</div>
<div class="t red" id="r6" style="left:1586.5px;top:337.7px">31.140</div>
<div class="t red" id="r7" style="left:473.7px;top:692.8px">28.800</div>
<div class="t" id="m200" style="left:1414px;top:437.2px;color:#2962ff;letter-spacing:0.1px">200-day MA</div>
<div class="t" id="m20" style="left:676.8px;top:558.4px;color:#9c27b0;font-size:24.5px;letter-spacing:0.1px">20-day MA</div>
<div class="logo" id="logo">TradingView</div>
</div></body></html>
